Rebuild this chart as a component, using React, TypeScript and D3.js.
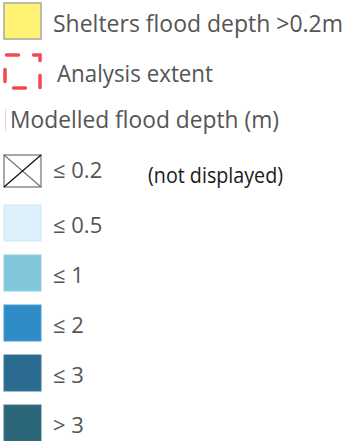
import React from "react";
import * as d3 from "d3";

const depthLabels = ["≤ 0.2", "≤ 0.5", "≤ 1", "≤ 2", "≤ 3", "> 3"];
const depthColors = ["none", "#dceffb", "#80c7dc", "#2f8cc7", "#2b6b8f", "#2b6778"];
const depthStrokes = ["#8a8a8a", "#d0e8f6", "#8fd0e2", "#4a9bd0", "#3b7699", "#3d7483"];
const topItems = ["Shelters flood depth >0.2m", "Analysis extent"];
const groupTitle = "Modelled flood depth (m)";
const noteText = "(not displayed)";

const W = 351;
const H = 441;
const FONT = "'Open Sans', 'Noto Sans', sans-serif";
const TXT = "#555555";

export default function App() {
  const rowY = d3.scaleLinear().domain([0, 5]).range([155, 405]);
  const sx = 4;
  const sw = 37;
  const sh = 36;
  return (
    <div style={{ position: "fixed", left: 0, top: 0, width: W, height: H, background: "#fff" }}>
      <svg width={W} height={H} style={{ display: "block" }}>
        {/* shelters */}
        <rect x={sx} y={3} width={sw} height={36} fill="#fff275" stroke="#a8a8a0" strokeWidth={1.5} />
        <text x={53} y={32} fontFamily={FONT} fontSize={23} fill={TXT} textLength={290} lengthAdjust="spacingAndGlyphs">
          {topItems[0]}
        </text>
        {/* analysis extent */}
        <rect x={5} y={55} width={35} height={33} fill="none" stroke="#f04a53" strokeWidth={3.5}
          strokeDasharray="12,15" strokeDashoffset={-1.5} strokeLinecap="round" />
        <text x={57} y={82} fontFamily={FONT} fontSize={23} fill={TXT} textLength={156} lengthAdjust="spacingAndGlyphs">
          {topItems[1]}
        </text>
        {/* group title */}
        <line x1={5.5} x2={5.5} y1={109} y2={131} stroke="#d8d8d8" strokeWidth={1} />
        <text x={10} y={128} fontFamily={FONT} fontSize={23} fill={TXT} textLength={269} lengthAdjust="spacingAndGlyphs">
          {groupTitle}
        </text>
        {depthLabels.map((lab, i) => {
          const y = rowY(i);
          const h = i === 0 ? 32 : sh;
          return (
            <g key={lab}>
              {i === 0 ? (
                <g>
                  <rect x={sx} y={y} width={sw} height={h} fill="#fff" stroke={depthStrokes[0]} strokeWidth={1.5} />
                  <line x1={sx} y1={y} x2={sx + sw} y2={y + h} stroke="#777" strokeWidth={1.2} />
                  <line x1={sx + sw} y1={y} x2={sx} y2={y + h} stroke="#111" strokeWidth={1.2} />
                </g>
              ) : (
                <rect x={sx} y={y} width={sw} height={h} fill={depthColors[i]} stroke={depthStrokes[i]} strokeWidth={1} />
              )}
              <text x={53} y={y + (i === 0 ? 23 : 28)} fontFamily={FONT} fontSize={22} fill={TXT}>
                {lab}
              </text>
            </g>
          );
        })}
        <text x={148} y={183} fontFamily={FONT} fontSize={22} fill="#1a1a1a" textLength={135} lengthAdjust="spacingAndGlyphs">
          {noteText}
        </text>
      </svg>
    </div>
  );
}
